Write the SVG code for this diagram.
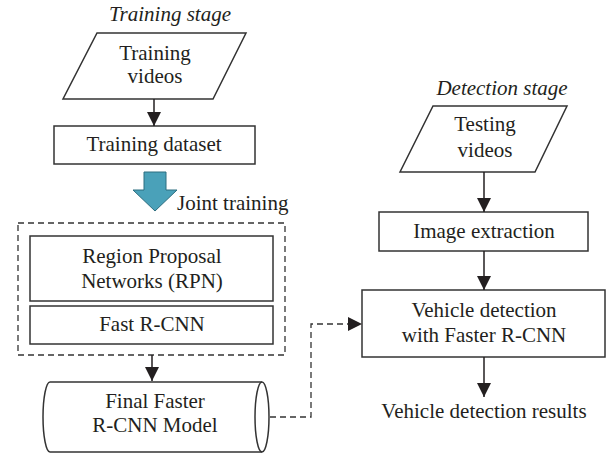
<svg xmlns="http://www.w3.org/2000/svg" width="607" height="453" viewBox="0 0 607 453">
<defs>
<marker id="ah" markerUnits="userSpaceOnUse" markerWidth="14" markerHeight="14" refX="14" refY="7" orient="auto">
<path d="M0,0 L14,7 L0,14 Z" fill="#231f20"/>
</marker>
<style>
.s{fill:#fff;stroke:#333;stroke-width:1.5}
.t{font-family:"Liberation Serif","Times New Roman",serif;font-size:21px;fill:#231f20;text-anchor:middle}
.i{font-style:italic}
.c{fill:none;stroke:#231f20;stroke-width:1.5}
.d{fill:none;stroke:#333;stroke-width:1.3;stroke-dasharray:6,4}
</style>
</defs>
<rect width="607" height="453" fill="#fff"/>
<text class="t i" x="170" y="21">Training stage</text>
<text class="t i" x="502" y="95">Detection stage</text>
<g id="training-videos">
<polygon class="s" points="97,33 246,33 213,99 63,99"/>
<text class="t" x="155" y="60">Training</text>
<text class="t" x="155" y="83">videos</text>
</g>
<g id="training-dataset">
<rect class="s" x="54" y="126" width="201" height="38"/>
<text class="t" x="154" y="151">Training dataset</text>
</g>
<g id="joint-training">
<polygon points="144,172 166,172 166,190 177,190 155,211 133,190 144,190" fill="#4aa1b9" stroke="#2d6e80" stroke-width="1"/>
<text class="t" x="177" y="210" style="text-anchor:start">Joint training</text>
</g>
<g id="joint-group">
<rect class="d" x="18" y="223" width="267" height="132"/>
</g>
<g id="rpn">
<rect class="s" x="30" y="236" width="243" height="65"/>
<text class="t" x="152" y="263">Region Proposal</text>
<text class="t" x="152" y="288">Networks (RPN)</text>
</g>
<g id="fast-rcnn">
<rect class="s" x="30" y="306" width="243" height="38"/>
<text class="t" x="152" y="331">Fast R-CNN</text>
</g>
<g id="final-model">
<path class="s" d="M50,382 L262,382 A7,35 0 0 1 262,452 L50,452 A7,35 0 0 1 50,382 Z"/>
<path class="s" style="fill:none" d="M262,382 A7,35 0 0 0 262,452"/>
<text class="t" x="155" y="408">Final Faster</text>
<text class="t" x="155" y="432">R-CNN Model</text>
</g>
<g id="testing-videos">
<polygon class="s" points="433,106 567,106 535,172 400,172"/>
<text class="t" x="485" y="131">Testing</text>
<text class="t" x="485" y="157">videos</text>
</g>
<g id="image-extraction">
<rect class="s" x="379" y="212" width="209" height="39"/>
<text class="t" x="484" y="238">Image extraction</text>
</g>
<g id="vehicle-detection">
<rect class="s" x="362" y="290" width="243" height="67"/>
<text class="t" x="484" y="317">Vehicle detection</text>
<text class="t" x="484" y="342">with Faster R-CNN</text>
</g>
<g id="results">
<text class="t" x="484" y="418">Vehicle detection results</text>
</g>
<g id="connectors">
<line class="c" x1="154" y1="99" x2="154" y2="126" marker-end="url(#ah)"/>
<line class="c" x1="152" y1="355" x2="152" y2="381" marker-end="url(#ah)"/>
<line class="c" x1="484" y1="172" x2="484" y2="212" marker-end="url(#ah)"/>
<line class="c" x1="484" y1="251" x2="484" y2="290" marker-end="url(#ah)"/>
<line class="c" x1="484" y1="357" x2="484" y2="397" marker-end="url(#ah)"/>
<path class="d" d="M270,417 L311,417 L311,324 L348,324"/>
<path d="M348,317 L362,324 L348,331 Z" fill="#231f20"/>
</g>
</svg>
